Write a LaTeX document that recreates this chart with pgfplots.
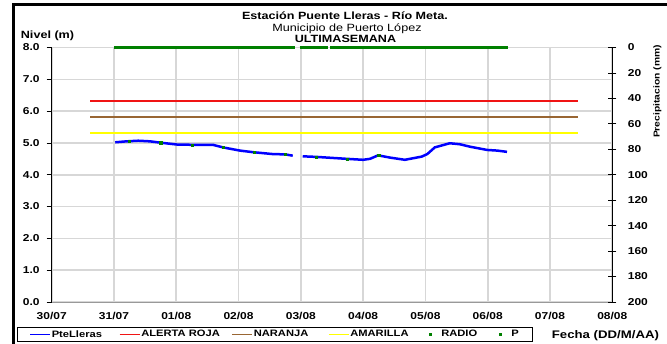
\documentclass[border=0pt]{standalone}
\usepackage{fontspec}
\setmainfont{Liberation Sans}[FakeStretch=1.2]
\usepackage{pgfplots}
\pgfplotsset{compat=1.18}
\definecolor{gridc}{RGB}{215,215,215}
\definecolor{rojo}{RGB}{240,20,20}
\definecolor{naranja}{RGB}{153,102,51}
\definecolor{amarilla}{RGB}{255,255,0}
\definecolor{verde}{RGB}{0,128,0}
\definecolor{azul}{RGB}{0,0,255}
\newcommand{\fs}[1]{\fontsize{#1}{#1}\selectfont}
\begin{document}
\begin{tikzpicture}[x=1pt,y=1pt]
\useasboundingbox (0,0) rectangle (667,343);
\draw[line width=3pt] (13.5,-2) -- (13.5,338.5) -- (668,338.5);
\node[anchor=base, font=\bfseries\fs{10.5}, inner sep=0] at (345,323) {Estación Puente Lleras - Río Meta.};
\node[anchor=base, font=\fs{10.5}, inner sep=0] at (347,311) {Municipio de Puerto López};
\node[anchor=base, font=\bfseries\fs{10.5}, inner sep=0] at (345.5,300) {ULTIMASEMANA};
\node[anchor=base west, font=\bfseries\fs{10.5}, inner sep=0] at (20.7,304) {Nivel (m)};
\node[anchor=base west, font=\bfseries\fs{11}, inner sep=0] at (551.7,5) {Fecha (DD/M/AA)};
\node[rotate=90, anchor=base, font=\bfseries\fs{8.6}, inner sep=0] at (659.5,251.5) {Precipitacion (mm)};
\begin{axis}[
  at={(51.7pt,41pt)}, anchor=south west, scale only axis,
  width=560.6pt, height=254.5pt,
  xmin=0, xmax=9, ymin=0, ymax=8,
  xtick={0,...,9},
  xticklabels={30/07,31/07,01/08,02/08,03/08,04/08,05/08,06/08,07/08,08/08},
  ytick={0,...,8},
  yticklabels={0.0,1.0,2.0,3.0,4.0,5.0,6.0,7.0,8.0},
  grid=major, major grid style={draw=gridc, line width=1.6pt},
  axis x line*=bottom, axis y line*=left,
  x axis line style={-, draw=gray!80, line width=1pt},
  y axis line style={-, draw=black, line width=1.3pt},
  xtick style={draw=none},
  ytick style={draw=black, line width=0.8pt},
  tick align=outside, major tick length=5pt,
  tick label style={font=\bfseries\fs{10}},
  yticklabel style={xshift=-3.5pt},
  xticklabel style={yshift=-2pt},
  /pgf/number format/assume math mode=true,
  legend columns=6, legend cell align=left,
  legend style={at={(-0.0619,-0.0982)}, anchor=north west, draw=black, line width=0.6pt, fill=white,
    font=\bfseries\fs{9.3}, inner xsep=12pt, inner ysep=2pt,
    nodes={inner sep=1pt},
    /tikz/every even column/.append style={column sep=0pt},
    /tikz/every odd column/.append style={column sep=0pt}},
  legend image code/.code={\draw[#1, mark=none, line width=1.5pt] (0pt,0pt) -- (20pt,0pt);},
]
\addplot[draw=azul, line width=2.5pt, unbounded coords=jump] coordinates {
(1.02,5.02) (1.20,5.05) (1.39,5.07) (1.58,5.05) (1.74,5.01) (2.01,4.95) (2.30,4.94)
(2.59,4.94) (2.75,4.86) (3.02,4.76) (3.23,4.71) (3.55,4.65) (3.75,4.64) (3.87,4.60)
(3.95,nan)
(4.03,4.58) (4.26,4.56) (4.50,4.53) (4.74,4.50) (5.00,4.47) (5.11,4.50) (5.24,4.61)
(5.43,4.54) (5.67,4.47) (5.94,4.57) (6.03,4.65) (6.15,4.86) (6.39,4.99) (6.55,4.96)
(6.72,4.88) (6.99,4.78) (7.15,4.76) (7.31,4.72)};
\addlegendentry{\makebox[66pt][l]{PteLleras}}
\addplot[color=rojo, line width=2pt] coordinates {(0.62,6.32) (8.45,6.32)};
\addlegendentry{\makebox[89pt][l]{ALERTA ROJA}}
\addplot[color=naranja, line width=1.4pt] coordinates {(0.62,5.81) (8.45,5.81)};
\addlegendentry{\makebox[73pt][l]{NARANJA}}
\addplot[color=amarilla, line width=1.4pt] coordinates {(0.62,5.31) (8.45,5.31)};
\addlegendentry{\makebox[69pt][l]{AMARILLA}}
\addplot[only marks, mark options={draw=verde, fill=verde}, mark=square*, mark size=1.1pt,
  legend image code/.code={\fill[verde] (8.9pt,-1.1pt) rectangle (11.1pt,1.1pt); \path[draw=none] (0pt,0pt) -- (20pt,0pt);}] coordinates {
(1.25,5.05) (1.75,5.01) (2.25,4.94) (2.75,4.86) (3.25,4.70) (3.75,4.64) (4.25,4.56) (4.75,4.50) (5.25,4.61)};
\addlegendentry{\makebox[48pt][l]{RADIO}}
\addlegendimage{legend image code/.code={\fill[verde] (8.9pt,-1.1pt) rectangle (11.1pt,1.1pt); \path[draw=none] (0pt,0pt) -- (20pt,0pt);}}
\addlegendentry{\makebox[8pt][l]{P}}
\end{axis}
\begin{axis}[
  at={(51.7pt,41pt)}, anchor=south west, scale only axis,
  width=560.6pt, height=254.5pt,
  xmin=0, xmax=9, ymin=0, ymax=200, y dir=reverse,
  axis x line=none, axis y line*=right,
  ytick={0,20,...,200},
  y axis line style={-, draw=black, line width=1.3pt},
  ytick style={draw=black, line width=0.8pt},
  tick align=center, major tick length=8pt,
  yticklabel style={font=\bfseries\fs{10}, xshift=8pt},
  /pgf/number format/assume math mode=true,
  clip=false,
]
\addplot[draw=verde, line width=2.6pt, unbounded coords=jump] coordinates {
(1.0,0) (3.90,0) (3.94,nan) (3.98,0) (4.43,0) (4.45,nan) (4.47,0) (7.33,0)};
\end{axis}
\end{tikzpicture}
\end{document}
